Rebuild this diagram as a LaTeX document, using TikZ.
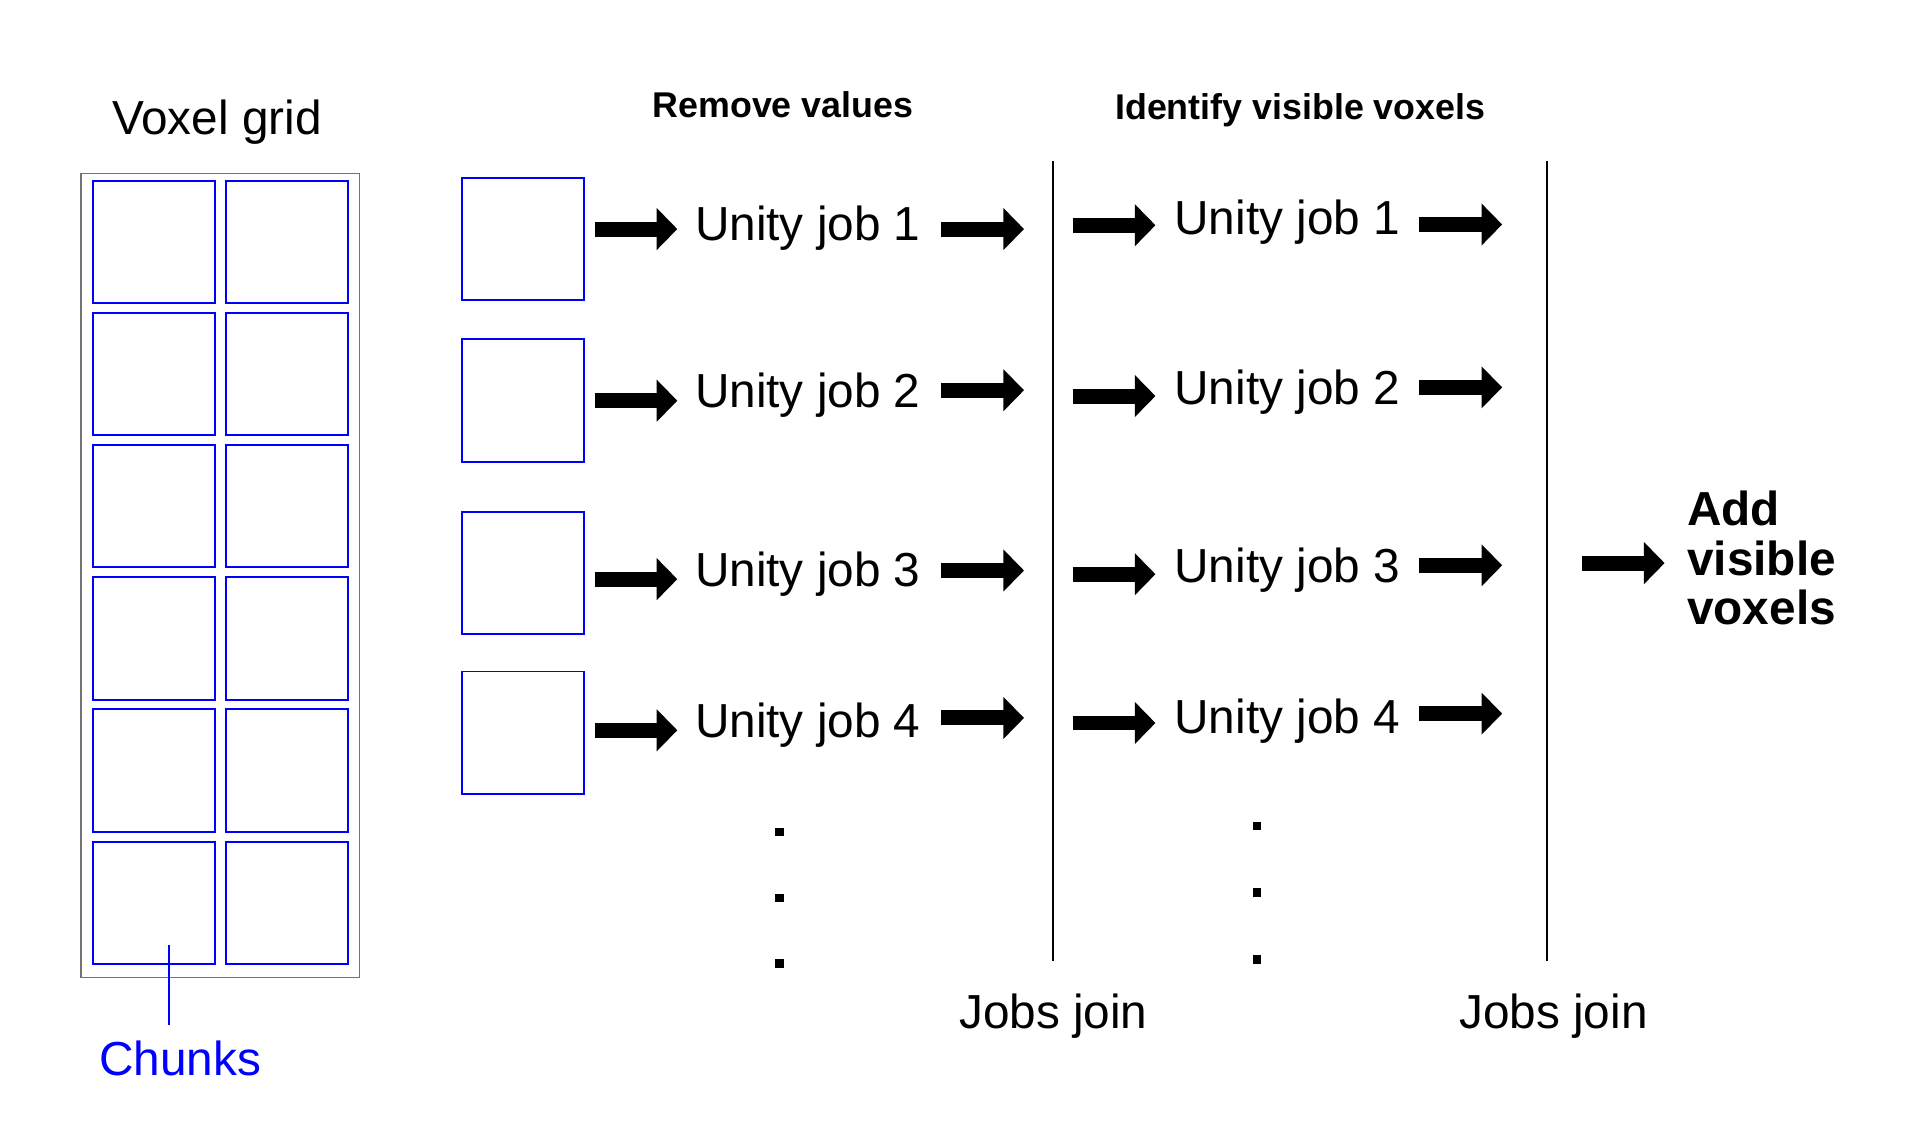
\documentclass[tikz,border=0pt]{standalone}
\usepackage{fontspec}
\setmainfont{Liberation Sans}
\usetikzlibrary{arrows.meta, positioning}
\definecolor{framegray}{RGB}{115,115,115}

\begin{document}
\begin{tikzpicture}[x=0.2mm, y=-0.2mm,
    big/.style={font=\fontsize{22}{23}\selectfont, inner sep=0pt},
    bigbold/.style={font=\bfseries\fontsize{22}{22.7}\selectfont, inner sep=0pt},
    head/.style={font=\bfseries\fontsize{16.5}{20}\selectfont, inner sep=0pt},
    chunk/.style={draw=blue, line width=0.9pt, minimum size=1.98cm, inner sep=0pt, anchor=north west},
    jobarrow/.style={line width=6.9pt, -{Triangle[length=9.5pt, width=18.8pt]}},
    dot/.style={fill=black, inner sep=0pt, minimum size=4pt},
    joinline/.style={line width=0.9pt},
  ]
  \useasboundingbox (0,0) rectangle (1560.5,918.3);

  % Voxel grid with its chunks
  \node[big, anchor=base west] (gridLabel) at (90.5,109.3) {Voxel grid};
  \node[draw=framegray, line width=0.75pt, minimum width=4.516cm, minimum height=13.02cm,
        inner sep=0pt, anchor=north west] (grid) at (64.8,139.8) {};
  \foreach \r in {0,...,5} {
    \node[chunk] (cA\r) at (74.2, 145.7+107*\r) {};
    \node[chunk] (cB\r) at (182.1, 145.7+107*\r) {};
  }
  \node[big, text=blue, anchor=base west] (chunksLabel) at (80,871) {Chunks};
  \coordinate (chunkTip) at (136.8,765);
  \draw[blue, line width=0.6pt] (chunkTip) -- ++(0,65);

  % Parts handed to the jobs
  \foreach \i/\y in {1/143.3, 2/274, 3/414, 4/543} {
    \node[chunk] (part\i) at (373,\y) {};
  }

  % Stage titles
  \node[head, anchor=base] (removeLabel) at (634,95.3) {Remove values};
  \node[head, anchor=base] (identLabel) at (1053,97) {Identify visible voxels};

  % Join lines
  \coordinate (joinAtop) at (853,130);
  \coordinate (joinAbot) at (853,778.5);
  \coordinate (joinBtop) at (1253,130);
  \coordinate (joinBbot) at (1253,778.5);
  \draw[joinline] (joinAtop) -- (joinAbot);
  \draw[joinline] (joinBtop) -- (joinBbot);
  \node[big, anchor=base] (joinA) at (853,833) {Jobs join};
  \node[big, anchor=base] (joinB) at (1258,833) {Jobs join};

  % First pass: remove values
  \foreach \i/\yt/\yl/\yr in {1/194.8/185.5/185.5, 2/330/324.5/316, 3/475/469/462, 4/597.5/591.4/581.4} {
    \node[big, anchor=base west] (remove\i) at (562.5,\yt) {Unity job \i};
    \draw[jobarrow] ([shift={(-81,\yl-\yt)}]remove\i.base west) -- ++(67,0);
    \draw[jobarrow] ([shift={(16.4,\yr-\yt)}]remove\i.base east) -- ++(67,0);
  }

  % Second pass: identify visible voxels
  \foreach \i/\yt/\yl/\yr in {1/190.1/182.4/181.8, 2/327.2/320.7/313.7, 3/471.4/465/457.8, 4/593.8/585.5/577.9} {
    \node[big, anchor=base west] (ident\i) at (950.7,\yt) {Unity job \i};
    \draw[jobarrow] ([shift={(-82,\yl-\yt)}]ident\i.base west) -- ++(67,0);
    \draw[jobarrow] ([shift={(15.4,\yr-\yt)}]ident\i.base east) -- ++(67,0);
  }

  % More jobs
  \foreach \k/\y in {1/673.8, 2/727.3, 3/780.3} {
    \node[dot] (dotA\k) at (631,\y) {};
  }
  \foreach \k/\y in {1/669, 2/722.6, 3/776.8} {
    \node[dot] (dotB\k) at (1018,\y) {};
  }

  % Result
  \node[bigbold, align=left, anchor=west] (addLabel) at (1366,452) {Add\\visible\\voxels};
  \draw[jobarrow] ([shift={(-85,4)}]addLabel.west) -- ++(67,0);
\end{tikzpicture}
\end{document}
